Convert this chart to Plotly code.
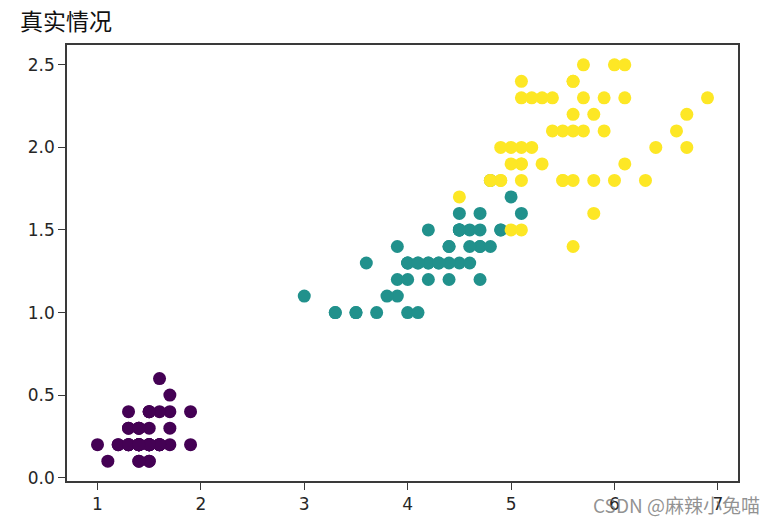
import plotly.graph_objects as go

# Iris petal length / width, by species
setosa_len = [1.4,1.4,1.3,1.5,1.4,1.7,1.4,1.5,1.4,1.5,1.5,1.6,1.4,1.1,1.2,1.5,1.3,1.4,1.7,1.5,
              1.7,1.5,1.0,1.7,1.9,1.6,1.6,1.5,1.4,1.6,1.6,1.5,1.5,1.4,1.5,1.2,1.3,1.4,1.3,1.5,
              1.3,1.3,1.3,1.6,1.9,1.4,1.6,1.4,1.5,1.4]
setosa_wid = [0.2,0.2,0.2,0.2,0.2,0.4,0.3,0.2,0.2,0.1,0.2,0.2,0.1,0.1,0.2,0.4,0.4,0.3,0.3,0.3,
              0.2,0.4,0.2,0.5,0.2,0.2,0.4,0.2,0.2,0.2,0.2,0.4,0.1,0.2,0.2,0.2,0.2,0.1,0.2,0.2,
              0.3,0.3,0.2,0.6,0.4,0.3,0.2,0.2,0.2,0.2]
versicolor_len = [4.7,4.5,4.9,4.0,4.6,4.5,4.7,3.3,4.6,3.9,3.5,4.2,4.0,4.7,3.6,4.4,4.5,4.1,4.5,3.9,
                  4.8,4.0,4.9,4.7,4.3,4.4,4.8,5.0,4.5,3.5,3.8,3.7,3.9,5.1,4.5,4.5,4.7,4.4,4.1,4.0,
                  4.4,4.6,4.0,3.3,4.2,4.2,4.2,4.3,3.0,4.1]
versicolor_wid = [1.4,1.5,1.5,1.3,1.5,1.3,1.6,1.0,1.3,1.4,1.0,1.5,1.0,1.4,1.3,1.4,1.5,1.0,1.5,1.1,
                  1.8,1.3,1.5,1.2,1.3,1.4,1.4,1.7,1.5,1.0,1.1,1.0,1.2,1.6,1.5,1.6,1.5,1.3,1.3,1.3,
                  1.2,1.4,1.2,1.0,1.3,1.2,1.3,1.3,1.1,1.3]
virginica_len = [6.0,5.1,5.9,5.6,5.8,6.6,4.5,6.3,5.8,6.1,5.1,5.3,5.5,5.0,5.1,5.3,5.5,6.7,6.9,5.0,
                 5.7,4.9,6.7,4.9,5.7,6.0,4.8,4.9,5.6,5.8,6.1,6.4,5.6,5.1,5.6,6.1,5.6,5.5,4.8,5.4,
                 5.6,5.1,5.1,5.9,5.7,5.2,5.0,5.2,5.4,5.1]
virginica_wid = [2.5,1.9,2.1,1.8,2.2,2.1,1.7,1.8,1.8,2.5,2.0,1.9,2.1,2.0,2.4,2.3,1.8,2.2,2.3,1.5,
                 2.3,2.0,2.0,1.8,2.1,1.8,1.8,1.8,2.1,1.6,1.9,2.0,2.2,1.5,1.4,2.3,2.4,1.8,1.8,2.1,
                 2.4,2.3,1.9,2.3,2.5,2.3,1.9,2.0,2.3,1.8]

series = [
    (setosa_len, setosa_wid, "#440154"),
    (versicolor_len, versicolor_wid, "#21918c"),
    (virginica_len, virginica_wid, "#fde725"),
]

x_ticks = [1, 2, 3, 4, 5, 6, 7]
y_ticks = [0.0, 0.5, 1.0, 1.5, 2.0, 2.5]

fig = go.Figure()
for xs, ys, col in series:
    fig.add_trace(go.Scatter(
        x=xs, y=ys, mode="markers",
        marker=dict(color=col, size=13, line=dict(width=0)),
        showlegend=False, hoverinfo="skip",
    ))

axis_common = dict(
    showline=True, mirror=True, linecolor="#3a3a3a", linewidth=1.5,
    ticks="outside", ticklen=7, tickwidth=1.2, tickcolor="#3a3a3a",
    showgrid=False, zeroline=False, automargin=False,
    tickfont=dict(family="DejaVu Sans", size=17, color="#262626"),
)

fig.update_xaxes(range=[0.705, 7.195], tickvals=x_ticks,
                 ticktext=[str(v) for v in x_ticks], **axis_common)
fig.update_yaxes(range=[-0.02, 2.62], tickvals=y_ticks,
                 ticktext=[f"{v:.1f}" for v in y_ticks], **axis_common)

# page body has an 8px margin, so the figure is sized/offset to compensate
fig.update_layout(
    width=769, height=515,
    margin=dict(l=59, r=39, t=37, b=42),
    paper_bgcolor="white", plot_bgcolor="white",
    annotations=[
        dict(text="真实情况", xref="paper", yref="paper", x=-0.073, y=1.0,
             xanchor="left", yanchor="middle", yshift=25, showarrow=False,
             font=dict(family="Noto Sans CJK SC", size=23, color="#111111")),
        dict(text="CSDN @麻辣小兔喵", xref="paper", yref="paper", x=1.0358, y=0,
             xanchor="right", yanchor="middle", yshift=-23, showarrow=False,
             font=dict(family="Noto Sans CJK SC", size=19, color="rgba(110,110,110,0.75)")),
    ],
)

fig.write_html("out.html")
